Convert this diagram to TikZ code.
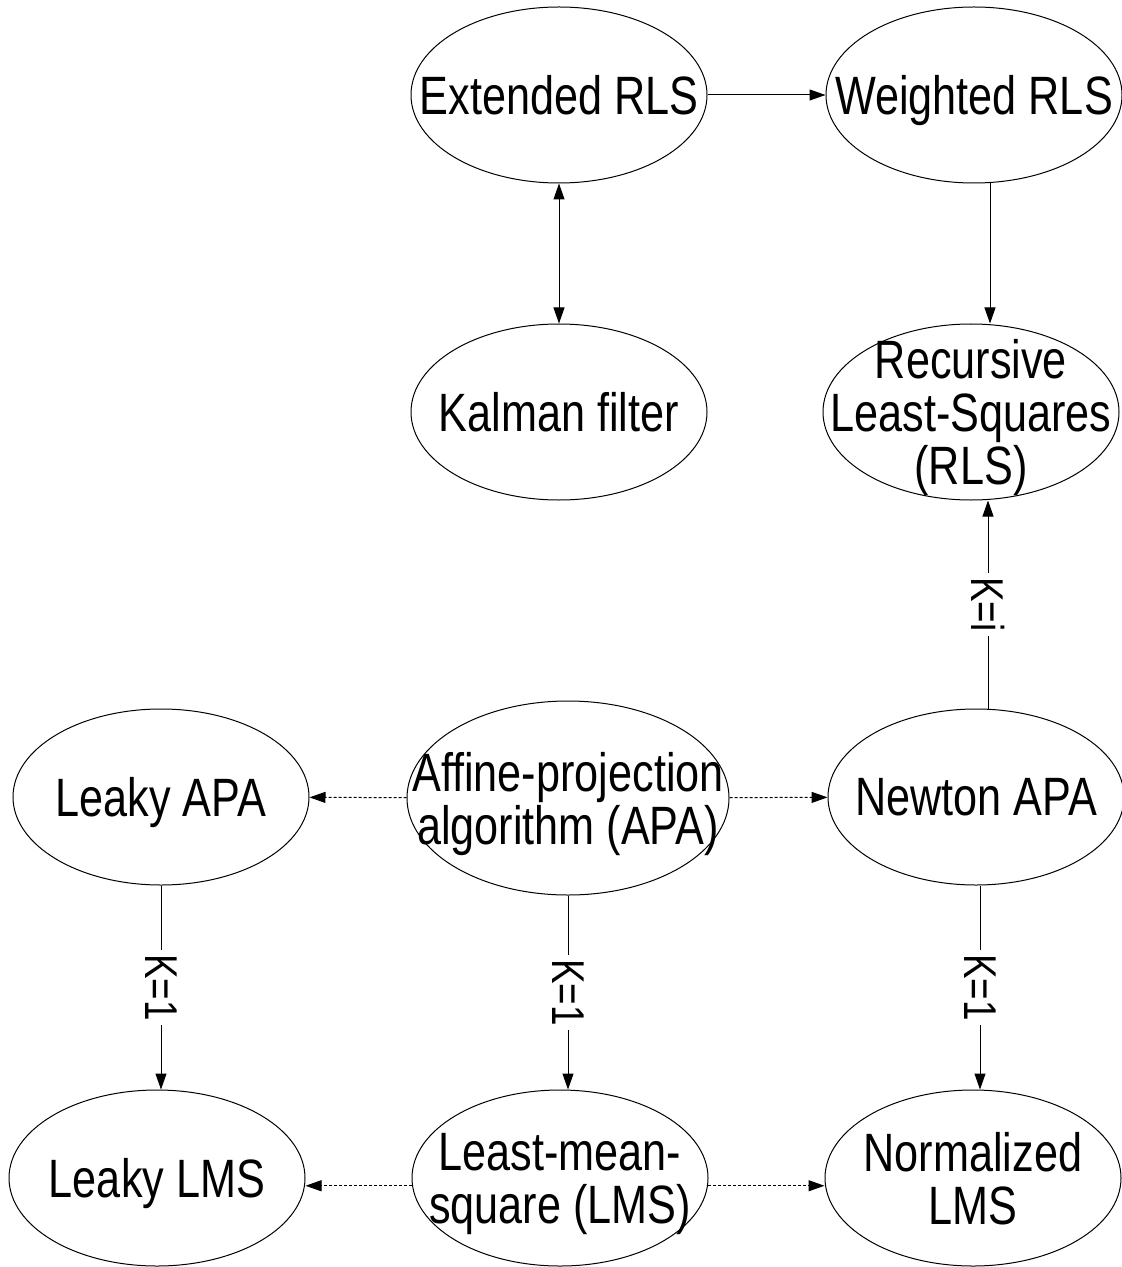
\documentclass[tikz,border=0pt]{standalone}
\usepackage{fontspec}
\setmainfont{Liberation Sans}[FakeStretch=0.8]
\usepackage{tikz}
\usetikzlibrary{arrows.meta,shapes.geometric}

\begin{document}
\begin{tikzpicture}[
    x=0.5pt, y=-0.5pt,
    line width=0.5pt,
    >={Triangle[length=8pt,width=5.5pt]},
    algo/.style={draw, ellipse, align=center, minimum width=148pt, minimum height=88pt,
        inner xsep=-25pt, inner ysep=-12pt, text depth=0pt, font=\fontsize{27pt}{26.5pt}\selectfont},
    bigalgo/.style={algo, minimum width=161pt, minimum height=97pt},
    klabel/.style={fill=white, rotate=-90, inner sep=2pt, font=\fontsize{23pt}{24pt}\selectfont},
    dashline/.style={->, dash pattern=on 1.5pt off 1pt}
]
\useasboundingbox (0,0) rectangle (1121,1267);

\node[algo] (ext) at (559,95) {Extended RLS};
\node[algo] (wrls) at (974,95) {Weighted RLS};
\node[algo] (kal) at (559,412) {Kalman filter};
\node[algo] (rls) at (971,412) {Recursive\\Least-Squares\\(RLS)};
\node[algo] (lapa) at (161,797) {Leaky APA};
\node[bigalgo] (apa) at (568,798) {Affine-projection\\algorithm (APA)};
\node[algo] (napa) at (976,797) {Newton APA};
\node[algo] (llms) at (157,1178) {Leaky LMS};
\node[algo] (lms) at (560,1178) {Least-mean-\\square (LMS)};
\node[algo] (nlms) at (973,1178) {Normalized\\LMS};

% RLS family
\draw[->] (ext) -- (wrls);
\draw[<->] (ext) -- (kal);
\draw[->] ([xshift=8pt]wrls.south) -- ([xshift=8pt]wrls.south |- rls.north);
\draw[->] ([xshift=6pt]napa.north) -- ([xshift=6pt]napa.north |- rls.south) node[midway, klabel] {K=i};

% APA row and LMS row
\draw[dashline] (apa) -- (lapa);
\draw[dashline] (apa) -- (napa);
\draw[dashline] (lms.183) -- (lms.183 -| llms.east);
\draw[dashline] (lms.-3) -- (lms.-3 -| nlms.west);

% K=1 reductions
\draw[->] (lapa.south) -- (lapa.south |- llms.north) node[midway, klabel] {K=1};
\draw[->] (apa.south) -- (apa.south |- lms.north) node[midway, klabel] {K=1};
\draw[->] ([xshift=2pt]napa.south) -- ([xshift=2pt]napa.south |- nlms.north) node[midway, klabel] {K=1};
\end{tikzpicture}
\end{document}
